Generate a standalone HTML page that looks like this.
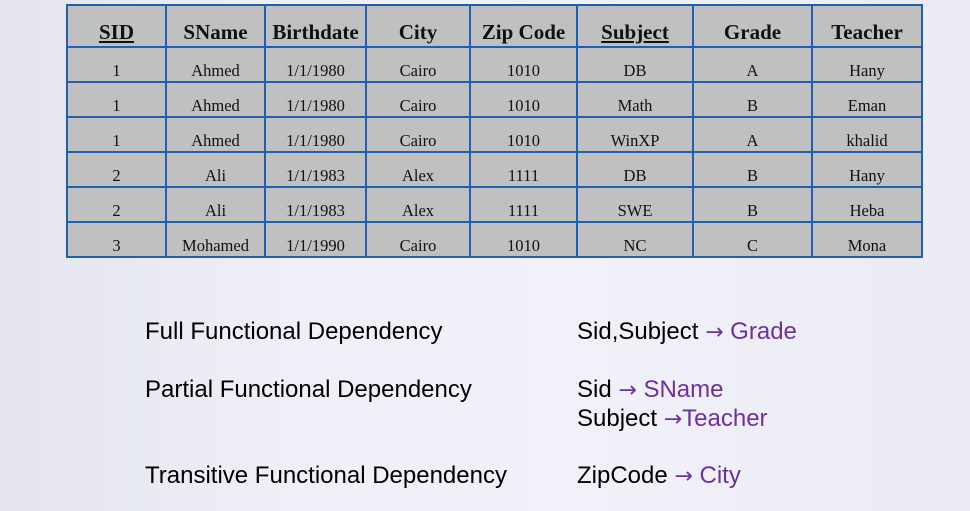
<!DOCTYPE html>
<html><head><meta charset="utf-8"><style>
body{margin:0;width:970px;height:511px;overflow:hidden;background:linear-gradient(90deg,#e4e5ee 0%,#eeeff7 30%,#f1f1f9 60%,#eaebf3 100%);position:relative;font-family:"Liberation Sans",sans-serif}
table{position:absolute;left:66px;top:4px;width:855px;table-layout:fixed;border-collapse:collapse;background:#c0c0c0;font-family:"Liberation Serif",serif}
td{border:2px solid #2060b0;text-align:center;vertical-align:bottom;padding:0 0 0 0;font-size:16.5px;height:33px;color:#111;white-space:nowrap;overflow:hidden}
tr.h td{font-size:21px;font-weight:bold;height:39px;padding-bottom:1px}
.u{text-decoration:underline}
.t{position:absolute;font-size:24px;color:#000;white-space:nowrap}
.p{color:#7030a0}
.a{font-family:"DejaVu Sans",sans-serif;font-size:22px}
</style></head><body>
<table>
<colgroup><col style="width:99px"><col style="width:99px"><col style="width:101px"><col style="width:104px"><col style="width:107px"><col style="width:116px"><col style="width:119px"><col style="width:110px"></colgroup>
<tr class="h"><td class="u">SID</td><td>SName</td><td>Birthdate</td><td>City</td><td>Zip Code</td><td class="u">Subject</td><td>Grade</td><td>Teacher</td></tr>
<tr><td>1</td><td>Ahmed</td><td>1/1/1980</td><td>Cairo</td><td>1010</td><td>DB</td><td>A</td><td>Hany</td></tr>
<tr><td>1</td><td>Ahmed</td><td>1/1/1980</td><td>Cairo</td><td>1010</td><td>Math</td><td>B</td><td>Eman</td></tr>
<tr><td>1</td><td>Ahmed</td><td>1/1/1980</td><td>Cairo</td><td>1010</td><td>WinXP</td><td>A</td><td>khalid</td></tr>
<tr><td>2</td><td>Ali</td><td>1/1/1983</td><td>Alex</td><td>1111</td><td>DB</td><td>B</td><td>Hany</td></tr>
<tr><td>2</td><td>Ali</td><td>1/1/1983</td><td>Alex</td><td>1111</td><td>SWE</td><td>B</td><td>Heba</td></tr>
<tr><td>3</td><td>Mohamed</td><td>1/1/1990</td><td>Cairo</td><td>1010</td><td>NC</td><td>C</td><td>Mona</td></tr>
</table>
<div class="t" style="left:145px;top:318px">Full Functional Dependency</div>
<div class="t" style="left:577px;top:318px">Sid,Subject <span class="p"><span class="a">→</span> Grade</span></div>
<div class="t" style="left:145px;top:376px">Partial Functional Dependency</div>
<div class="t" style="left:577px;top:376px">Sid <span class="p"><span class="a">→</span> SName</span></div>
<div class="t" style="left:577px;top:405px">Subject <span class="p"><span class="a">→</span>Teacher</span></div>
<div class="t" style="left:145px;top:462px">Transitive Functional Dependency</div>
<div class="t" style="left:577px;top:462px">ZipCode <span class="p"><span class="a">→</span> City</span></div>
</body></html>
